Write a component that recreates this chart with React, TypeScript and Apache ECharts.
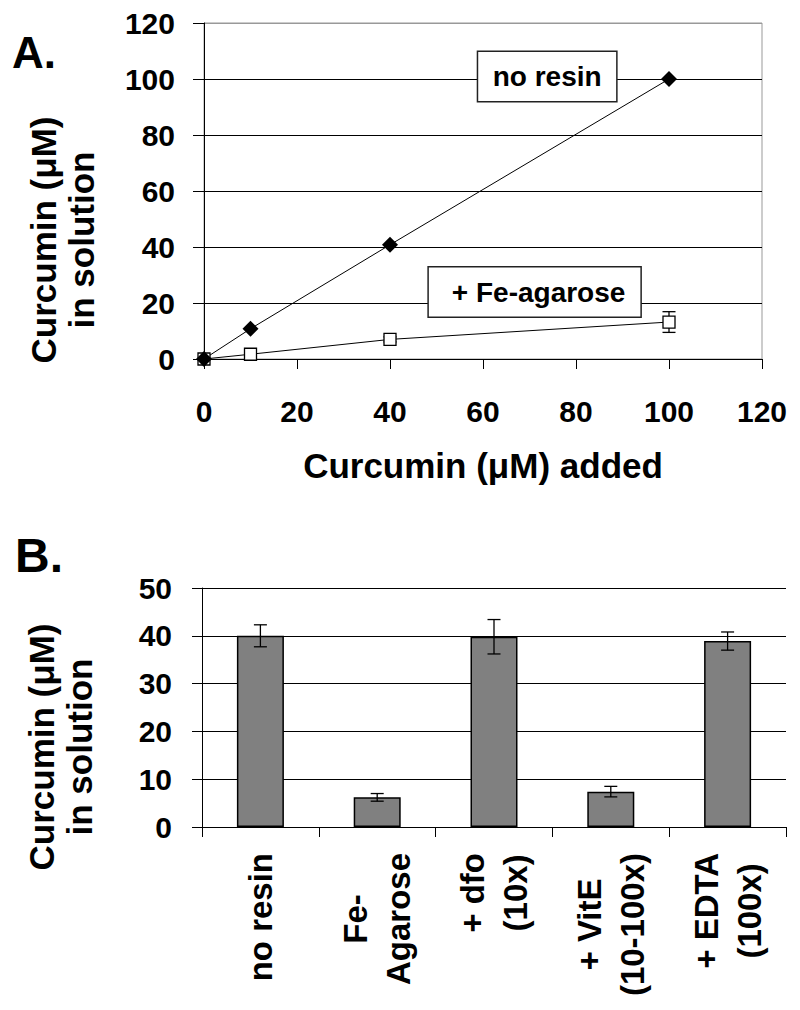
import React, { useEffect, useRef } from "react";
import * as echarts from "echarts";

const FONT = "'Liberation Sans', Arial, Helvetica, sans-serif";

// ---- Panel A data ----
const addedUM = [0, 10, 40, 100];
const noResin = [0, 10.8, 40.8, 100];
const feAgarose = [0, 1.7, 7.0, 13.2];
const feAgaroseErr = [0, 0.6, 0.9, 3.7];
const axisAMax = 120;
const axisAStep = 20;
const noResinLabelAt = [73.8, 100.9];
const feLabelAt = [71.1, 23.9];

// ---- Panel B data ----
const treatments = ["no resin", "Fe-\nAgarose", "+ dfo\n(10x)", "+ VitE\n(10-100x)", "+ EDTA\n(100x)"];
const inSolution = [40.0, 6.2, 39.8, 7.4, 38.9];
const inSolutionErr = [2.3, 0.8, 3.6, 1.1, 1.9];
const axisBMax = 50;
const axisBStep = 10;

const errorRender = (capHalf: number, lw: number) => (params: any, api: any) => {
  const x = api.value(0);
  const lo = api.value(1);
  const hi = api.value(2);
  const pLo = api.coord([x, lo]);
  const pHi = api.coord([x, hi]);
  const style = { stroke: "#000", lineWidth: lw };
  return {
    type: "group",
    children: [
      { type: "line", shape: { x1: pHi[0], y1: pHi[1], x2: pLo[0], y2: pLo[1] }, style },
      { type: "line", shape: { x1: pHi[0] - capHalf, y1: pHi[1], x2: pHi[0] + capHalf, y2: pHi[1] }, style },
      { type: "line", shape: { x1: pLo[0] - capHalf, y1: pLo[1], x2: pLo[0] + capHalf, y2: pLo[1] }, style },
    ],
  };
};

export default function App() {
  const ref = useRef<HTMLDivElement>(null);
  useEffect(() => {
    if (!ref.current) return;
    const chart = echarts.init(ref.current, null, { renderer: "svg" });
    const txt = { fontFamily: FONT, fontWeight: "bold" as const, color: "#000" };
    const boxLabel = (text: string, padding: number[]) => ({
      symbol: "rect",
      symbolSize: 1,
      itemStyle: { color: "rgba(0,0,0,0)" },
      label: {
        show: true,
        position: "inside",
        formatter: text,
        ...txt,
        fontSize: 28,
        lineHeight: 29,
        backgroundColor: "#fff",
        borderColor: "#222",
        borderWidth: 1.5,
        padding,
      },
    });
    const option: any = {
      animation: false,
      backgroundColor: "#fff",
      grid: [
        { left: 204, top: 23, width: 558, height: 336, show: true, borderColor: "#999", borderWidth: 1, backgroundColor: "transparent" },
        { left: 202, top: 588, width: 584, height: 239 },
      ],
      xAxis: [
        {
          type: "value",
          gridIndex: 0,
          min: 0,
          max: axisAMax,
          interval: axisAStep,
          axisLine: { show: true, lineStyle: { color: "#000", width: 1 } },
          axisTick: { show: true, inside: false, length: 10, lineStyle: { color: "#000", width: 1 } },
          axisLabel: { ...txt, fontSize: 30, margin: 37 },
          splitLine: { show: false },
          name: "Curcumin (μM) added",
          nameLocation: "middle",
          nameGap: 89,
          nameTextStyle: { ...txt, fontSize: 35 },
        },
        {
          type: "category",
          gridIndex: 1,
          data: treatments,
          boundaryGap: true,
          axisLine: { show: true, lineStyle: { color: "#000", width: 1 } },
          axisTick: { show: true, inside: false, length: 10, alignWithLabel: false, lineStyle: { color: "#000", width: 1 } },
          axisLabel: {
            interval: 0,
            rotate: 90,
            margin: 26,
            ...txt,
            fontSize: 33,
            lineHeight: 43,
            formatter: (v: string) => v.split("\n").map((l) => `{c|${l}}`).join("\n"),
            rich: { c: { ...txt, fontSize: 33, lineHeight: 43, align: "center" } },
          },
          splitLine: { show: false },
        },
      ],
      yAxis: [
        {
          type: "value",
          gridIndex: 0,
          min: 0,
          max: axisAMax,
          interval: axisAStep,
          axisLine: { show: true, lineStyle: { color: "#000", width: 1 } },
          axisTick: { show: true, inside: false, length: 11, lineStyle: { color: "#000", width: 1 } },
          axisLabel: { ...txt, fontSize: 30, margin: 29 },
          splitLine: {
            show: true,
            lineStyle: { color: ["#000", "#000", "#000", "#000", "#000", "#000", "#999"], width: 1 },
          },
          name: "Curcumin (μM)\nin solution",
          nameLocation: "middle",
          nameGap: 104,
          nameTextStyle: { ...txt, fontSize: 35, lineHeight: 38, padding: [0, 98, 0, 0] },
        },
        {
          type: "value",
          gridIndex: 1,
          min: 0,
          max: axisBMax,
          interval: axisBStep,
          axisLine: { show: true, lineStyle: { color: "#000", width: 1 } },
          axisTick: { show: true, inside: false, length: 10, lineStyle: { color: "#000", width: 1 } },
          axisLabel: { ...txt, fontSize: 30, margin: 30 },
          splitLine: { show: true, lineStyle: { color: "#000", width: 1 } },
          name: "Curcumin (μM)\nin solution",
          nameLocation: "middle",
          nameGap: 104,
          nameTextStyle: { ...txt, fontSize: 35, lineHeight: 38, padding: [0, 79, 0, 0] },
        },
      ],
      series: [
        {
          type: "custom",
          name: "Fe-agarose error",
          xAxisIndex: 0,
          yAxisIndex: 0,
          renderItem: errorRender(6.5, 1.3),
          encode: { x: 0, y: [1, 2] },
          data: addedUM.map((x, i) => [x, feAgarose[i] - feAgaroseErr[i], feAgarose[i] + feAgaroseErr[i]]),
          silent: true,
        },
        {
          type: "line",
          name: "+ Fe-agarose",
          xAxisIndex: 0,
          yAxisIndex: 0,
          data: addedUM.map((x, i) => [x, feAgarose[i]]),
          symbol: "rect",
          symbolSize: 12,
          showAllSymbol: true,
          itemStyle: { color: "#fff", borderColor: "#000", borderWidth: 1.3 },
          lineStyle: { color: "#000", width: 1 },
          markPoint: { data: [{ coord: feLabelAt, ...boxLabel("+ Fe-agarose", [10, 15, 10, 23]) }] },
        },
        {
          type: "line",
          name: "no resin",
          xAxisIndex: 0,
          yAxisIndex: 0,
          data: addedUM.map((x, i) => [x, noResin[i]]),
          symbol: "diamond",
          symbolSize: [16, 16],
          itemStyle: { color: "#000" },
          lineStyle: { color: "#000", width: 1 },
          markPoint: { data: [{ coord: noResinLabelAt, ...boxLabel("no resin", [10, 14.5, 10, 14.5]) }] },
        },
        {
          type: "bar",
          name: "Curcumin in solution",
          xAxisIndex: 1,
          yAxisIndex: 1,
          data: inSolution,
          barWidth: 47,
          itemStyle: { color: "#808080", borderColor: "#000", borderWidth: 1.5 },
        },
        {
          type: "custom",
          name: "bar error",
          xAxisIndex: 1,
          yAxisIndex: 1,
          renderItem: errorRender(6.5, 1.3),
          encode: { x: 0, y: [1, 2] },
          data: inSolution.map((v, i) => [i, v - inSolutionErr[i], v + inSolutionErr[i]]),
          silent: true,
          z: 5,
        },
      ],
      graphic: [
        { type: "text", left: 12, top: 52.5 - 22, style: { text: "A.", fontFamily: FONT, fontWeight: "bold", fontSize: 44, fill: "#000" } },
        { type: "text", left: 15, top: 555.5 - 24, style: { text: "B.", fontFamily: FONT, fontWeight: "bold", fontSize: 48, fill: "#000" } },
      ],
    };
    chart.setOption(option);
    return () => chart.dispose();
  }, []);
  return <div ref={ref} style={{ position: "absolute", left: 0, top: 0, width: 800, height: 1010 }} />;
}
